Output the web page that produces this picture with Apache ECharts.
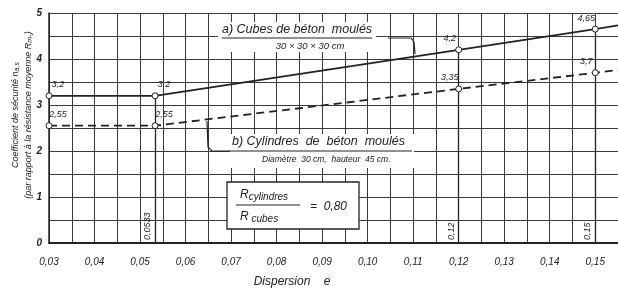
<!DOCTYPE html>
<html>
<head>
<meta charset="utf-8">
<script src="https://cdn.jsdelivr.net/npm/echarts@6/dist/echarts.min.js"></script>
<style>
  html, body { margin: 0; padding: 0; background: #fff; }
  #chart { width: 618px; height: 297px; }
</style>
</head>
<body>
<div id="chart"></div>
<script>
// dispersion values (x) where the curves are marked
const dispersion = [0.03, 0.0533, 0.12, 0.15, 0.155]
// safety factor, cubes (solid) and cylinders (dashed)
const cubes = [3.2, 3.2, 4.2, 4.65, 4.73]
const cylindres = [2.55, 2.55, 3.35, 3.7, 3.76]
const cubeLabels = ['3,2', '3,2', '4,2', '4,65', '']
const cylLabels = ['2,55', '2,55', '3,35', '3,7', '']
// vertical reference lines
const refX = [0.0533, 0.12, 0.15]
const refTop = [3.2, 4.2, 4.65]
const refLabels = ['0,0533', '0,12', '0,15']

const ink = '#222'
const font = 'Liberation Sans'

function pts(ys, labels) {
  return dispersion.map((x, i) => {
    const item = { value: [x, ys[i]], label: { show: !!labels[i], formatter: labels[i] } }
    if (i === dispersion.length - 1) {
      item.symbol = 'none'
    }
    // labels to the left of the point for 0.12 and 0.15
    if (i === 2 || i === 3) {
      item.label.position = 'top'
      item.label.offset = [-9, 0]
    } else {
      item.label.position = 'top'
      item.label.offset = [9, 0]
    }
    return item
  })
}

const chart = echarts.init(document.getElementById('chart'), null, { renderer: 'canvas' })

const labelStyle = {
  color: ink,
  fontFamily: font,
  fontStyle: 'italic',
  fontSize: 9,
  distance: 3
}

const opt = {
  backgroundColor: '#fff',
  animation: false,
  grid: {
    left: 49,
    top: 13,
    width: 572,
    bottom: 54
  },
  xAxis: {
    type: 'value',
    min: 0.03,
    max: 0.155,
    interval: 0.005,
    axisLine: { show: true, onZero: false, lineStyle: { color: ink, width: 2 } },
    axisTick: { show: false },
    axisLabel: {
      color: ink,
      fontFamily: font,
      fontStyle: 'italic',
      fontSize: 10,
      margin: 14,
      showMaxLabel: false,
      formatter: function(v) {
        const r = Math.round(v * 1000)
        if (r % 10 !== 0) return ''
        return (r / 1000).toFixed(2).replace('.', ',')
      }
    },
    splitLine: { show: true, lineStyle: { color: '#3a3a3a', width: 1 } }
  },
  yAxis: {
    type: 'value',
    min: 0,
    max: 5,
    interval: 0.5,
    axisLine: { show: true, lineStyle: { color: ink, width: 1.5 } },
    axisTick: { show: false },
    axisLabel: {
      color: ink,
      fontFamily: font,
      fontStyle: 'italic',
      fontWeight: 'bold',
      fontSize: 10,
      margin: 7,
      formatter: function(v) {
        return Math.abs(v - Math.round(v)) < 1e-6 ? String(Math.round(v)) : ''
      }
    },
    splitLine: { show: true, lineStyle: { color: '#3a3a3a', width: 1 } }
  },
  series: [
    {
      name: 'Cubes',
      type: 'line',
      data: pts(cubes, cubeLabels),
      symbol: 'circle',
      symbolSize: 6,
      lineStyle: { color: ink, width: 1.8 },
      itemStyle: { color: '#fff', borderColor: ink, borderWidth: 1 },
      label: labelStyle,
      z: 5,
      markLine: {
        symbol: 'none',
        silent: true,
        lineStyle: { color: ink, width: 1.3, type: 'solid' },
        label: {
          show: true,
          position: 'insideStartTop',
          color: ink,
          fontFamily: font,
          fontStyle: 'italic',
          fontSize: 9,
          distance: 3
        },
        data: refX.map((x, i) => [
          { coord: [x, 0], label: { formatter: refLabels[i] } },
          { coord: [x, refTop[i]] }
        ])
      }
    },
    {
      name: 'Cylindres',
      type: 'line',
      data: pts(cylindres, cylLabels),
      symbol: 'circle',
      symbolSize: 6,
      lineStyle: { color: ink, width: 1.8, type: [8, 5] },
      itemStyle: { color: '#fff', borderColor: ink, borderWidth: 1 },
      label: labelStyle,
      z: 5
    }
  ],
  graphic: [
    // y axis title, two rotated lines
    {
      type: 'text', x: 15, y: 115, rotation: Math.PI / 2,
      style: {
        text: '{t|Coefficient de sécurité n}{s|a.s}',
        align: 'center', verticalAlign: 'middle',
        rich: {
          t: { fontFamily: font, fontStyle: 'italic', fontSize: 9, fill: ink },
          s: { fontFamily: font, fontStyle: 'italic', fontSize: 7, fill: ink, padding: [4, 0, 0, 0] }
        }
      }
    },
    {
      type: 'text', x: 28, y: 115, rotation: Math.PI / 2,
      style: {
        text: '{t|(par rapport à la résistance moyenne R}{s|m}{t|.)}',
        align: 'center', verticalAlign: 'middle',
        rich: {
          t: { fontFamily: font, fontStyle: 'italic', fontSize: 9, fill: ink },
          s: { fontFamily: font, fontStyle: 'italic', fontSize: 7, fill: ink, padding: [4, 0, 0, 0] }
        }
      }
    },
    // x axis title
    {
      type: 'text', x: 292, y: 282,
      style: {
        text: 'Dispersion    e', fill: ink, fontFamily: font, fontStyle: 'italic',
        fontSize: 12, align: 'center', verticalAlign: 'middle'
      }
    },
    // a) cubes annotation
    {
      type: 'rect', shape: { x: 218, y: 22, width: 158, height: 30 },
      style: { fill: '#fff' }, z: 10
    },
    {
      type: 'text', x: 222, y: 30, z: 11,
      style: {
        text: 'a) Cubes de béton  moulés', fill: ink, fontFamily: font, fontStyle: 'italic',
        fontSize: 12.5, align: 'left', verticalAlign: 'middle'
      }
    },
    {
      type: 'text', x: 310, y: 46, z: 11,
      style: {
        text: '30 × 30 × 30 cm', fill: ink, fontFamily: font, fontStyle: 'italic',
        fontSize: 9.5, align: 'center', verticalAlign: 'middle'
      }
    },
    {
      type: 'polyline', z: 11,
      shape: { points: [[222, 38], [372, 38]] },
      style: { stroke: ink, lineWidth: 1.2, fill: null }
    },
    {
      type: 'polyline', z: 11,
      shape: { points: [[388, 38], [411, 38], [414, 42], [415, 54]] },
      style: { stroke: ink, lineWidth: 1.2, fill: null }
    },
    // b) cylinders annotation
    {
      type: 'rect', shape: { x: 230, y: 134, width: 184, height: 34 },
      style: { fill: '#fff' }, z: 10
    },
    {
      type: 'text', x: 232, y: 142, z: 11,
      style: {
        text: 'b) Cylindres  de  béton  moulés', fill: ink, fontFamily: font, fontStyle: 'italic',
        fontSize: 12.5, align: 'left', verticalAlign: 'middle'
      }
    },
    {
      type: 'text', x: 262, y: 160, z: 11,
      style: {
        text: 'Diamètre  30 cm,  hauteur  45 cm.', fill: ink, fontFamily: font, fontStyle: 'italic',
        fontSize: 8.5, align: 'left', verticalAlign: 'middle'
      }
    },
    {
      type: 'polyline', z: 11,
      shape: { points: [[207, 121], [208, 147], [212, 151], [412, 151]] },
      style: { stroke: ink, lineWidth: 1.2, fill: null }
    },
    // ratio box
    {
      type: 'rect', z: 10,
      shape: { x: 227, y: 182, width: 132, height: 47 },
      style: { fill: '#fff', stroke: ink, lineWidth: 1.3 }
    },
    {
      type: 'text', x: 240, y: 195, z: 11,
      style: {
        text: '{r|R}{s|cylindres}', align: 'left', verticalAlign: 'middle',
        rich: {
          r: { fontFamily: font, fontStyle: 'italic', fontSize: 12, fill: ink },
          s: { fontFamily: font, fontStyle: 'italic', fontSize: 10, fill: ink, padding: [5, 0, 0, 0] }
        }
      }
    },
    {
      type: 'polyline', z: 11,
      shape: { points: [[236, 205], [300, 205]] },
      style: { stroke: ink, lineWidth: 1.2, fill: null }
    },
    {
      type: 'text', x: 240, y: 217, z: 11,
      style: {
        text: '{r|R}{s| cubes}', align: 'left', verticalAlign: 'middle',
        rich: {
          r: { fontFamily: font, fontStyle: 'italic', fontSize: 12, fill: ink },
          s: { fontFamily: font, fontStyle: 'italic', fontSize: 10, fill: ink, padding: [5, 0, 0, 0] }
        }
      }
    },
    {
      type: 'text', x: 310, y: 207, z: 11,
      style: {
        text: '=  0,80', fill: ink, fontFamily: font, fontStyle: 'italic',
        fontSize: 12, align: 'left', verticalAlign: 'middle'
      }
    }
  ]
}

chart.setOption(opt)
</script>
</body>
</html>
